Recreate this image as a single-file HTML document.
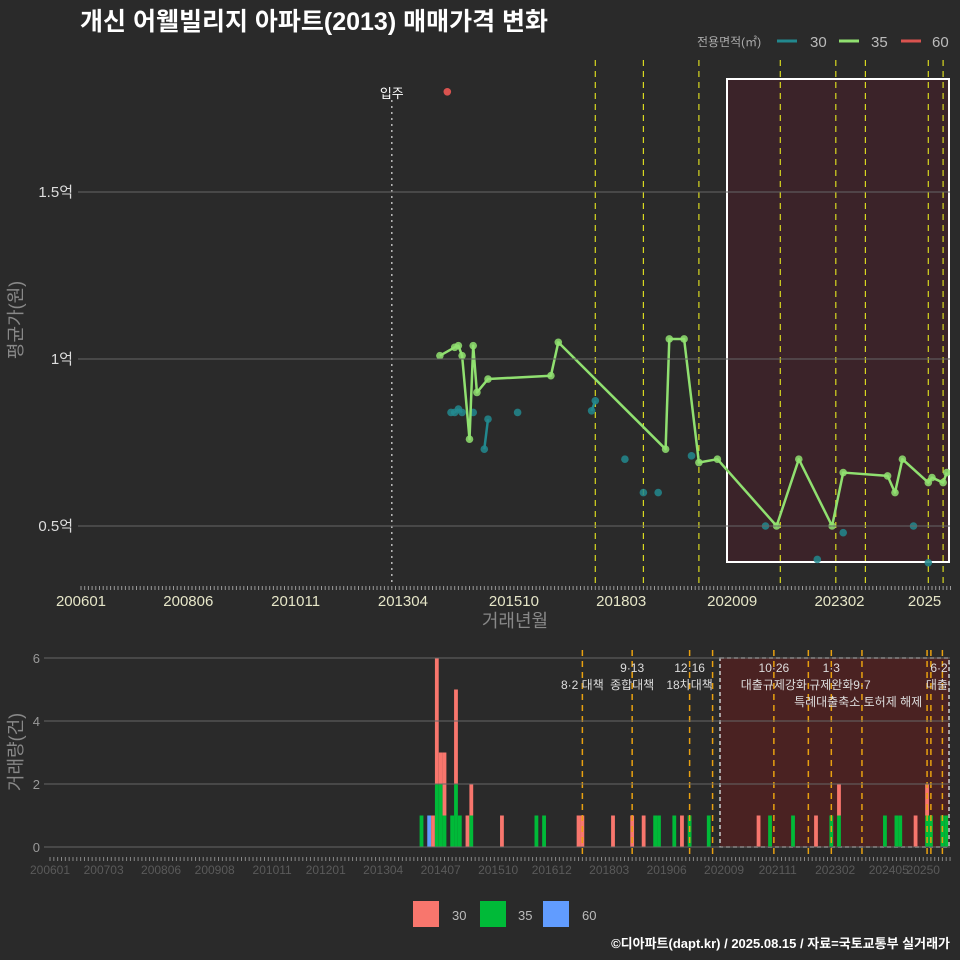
<!DOCTYPE html>
<html><head><meta charset="utf-8">
<style>
body{margin:0;background:#2a2a2a;}
svg{display:block;font-family:"Liberation Sans","Noto Sans CJK KR",sans-serif;}
</style></head>
<body>
<svg id="chart" width="960" height="960" viewBox="0 0 960 960" xmlns="http://www.w3.org/2000/svg">
<rect width="960" height="960" fill="#2a2a2a"/>
<defs>
<clipPath id="topclip"><rect x="50" y="55" width="900" height="530"/></clipPath>
<clipPath id="botclip"><rect x="44" y="645" width="906" height="215"/></clipPath>
</defs>
<text x="80" y="30" fill="#fff" font-size="25" font-weight="bold">개신 어웰빌리지 아파트(2013) 매매가격 변화</text>
<g>
<text x="697" y="46" fill="#aaa" font-size="12">전용면적(㎡)</text>
<line x1="777" y1="41" x2="797" y2="41" stroke="#22888e" stroke-width="3"/>
<text x="810" y="47" fill="#bbb" font-size="15">30</text>
<line x1="839" y1="41" x2="859" y2="41" stroke="#90e070" stroke-width="3"/>
<text x="871" y="47" fill="#bbb" font-size="15">35</text>
<line x1="901" y1="41" x2="921" y2="41" stroke="#d9534f" stroke-width="3"/>
<text x="932" y="47" fill="#bbb" font-size="15">60</text>
</g>
<g id="gtop" clip-path="url(#topclip)"></g>
<g id="topaxis"></g>
<g id="gbot" clip-path="url(#botclip)"></g>
<g id="botaxis"></g>
<text transform="translate(22,320) rotate(-90)" text-anchor="middle" fill="#888" font-size="18">평균가(원)</text>
<text x="515" y="627" text-anchor="middle" fill="#888" font-size="18">거래년월</text>
<text transform="translate(22,752) rotate(-90)" text-anchor="middle" fill="#888" font-size="18">거래량(건)</text>
<g>
<rect x="413" y="901" width="26" height="26" fill="#F8766D"/>
<text x="452" y="920" fill="#bbb" font-size="13">30</text>
<rect x="480" y="901" width="26" height="26" fill="#00BA38"/>
<text x="518" y="920" fill="#bbb" font-size="13">35</text>
<rect x="543" y="901" width="26" height="26" fill="#619CFF"/>
<text x="582" y="920" fill="#bbb" font-size="13">60</text>
</g>
<text x="950" y="948" text-anchor="end" fill="#fff" font-size="13" font-weight="bold">©디아파트(dapt.kr) / 2025.08.15 / 자료=국토교통부 실거래가</text>
</svg>
<script>
// months are indices from 2006-01 (0)
const priceTicks = [0.5, 1.0, 1.5];
const priceTickLabels = ["0.5억", "1억", "1.5억"];
const topXTickMonths = [0, 29, 58, 87, 117, 146, 176, 205, 228];
const topXTickLabels = ["200601","200806","201011","201304","201510","201803","202009","202302","2025"];
const s35Months = [97,101,102,103,105,106,107,110,127,129,158,159,163,167,172,188,194,203,206,218,220,222,229,230,233,234];
const s35Values = [1.01,1.035,1.04,1.01,0.76,1.04,0.90,0.94,0.95,1.05,0.73,1.06,1.06,0.69,0.70,0.50,0.70,0.50,0.66,0.65,0.60,0.70,0.63,0.645,0.63,0.66];
const s30Months = [100,101,102,103,106,109,110,118,138,139,147,152,156,165,185,199,206,225,229];
const s30Values = [0.84,0.84,0.85,0.84,0.84,0.73,0.82,0.84,0.845,0.875,0.70,0.60,0.60,0.71,0.50,0.40,0.48,0.50,0.39];
const s60Months = [99];
const s60Values = [1.80];
const topEventMonths = [139,152,167,189,204,212,229,233];
const moveInMonth = 84;
const volTicks = [0,2,4,6];
const botXTickMonths = [0,14,29,43,58,72,87,102,117,131,146,161,176,190,205,219,228];
const botXTickLabels = ["200601","200703","200806","200908","201011","201201","201304","201407","201510","201612","201803","201906","202009","202111","202302","202405","20250"];
const volMonths = [97,99,100,101,102,103,105,106,107,109,110,118,127,129,138,139,147,152,155,158,159,163,165,167,172,185,188,194,200,204,206,218,221,222,226,229,230,233,234];
const vol30 = [0,0,1,4,1,2,0,3,0,1,1,1,0,0,1,1,1,1,1,0,0,0,1,0,0,1,0,0,1,0,1,0,0,0,1,1,0,0,0];
const vol35 = [1,0,0,2,2,1,1,2,1,0,1,0,1,1,0,0,0,0,0,1,1,1,0,1,1,0,1,1,0,1,1,1,1,1,0,1,1,1,1];
const vol60 = [0,1,0,0,0,0,0,0,0,0,0,0,0,0,0,0,0,0,0,0,0,0,0,0,0,0,0,0,0,0,0,0,0,0,0,0,0,0,0];
const botEventMonths = [139,152,167,173,189,198,204,212,229,230,233];
const annotTexts = ["8·2 대책","9·13","종합대책","12·16","18차대책","10·26","대출규제강화","1·3","규제완화","9·7","특례대출축소 토허제 해제","6·27","대출규"];
const annotMonths = [139,152,152,167,167,189,189,204,204,212,211,233,233];
const annotRows = [1,0,1,0,1,0,1,0,1,1,2,0,1];

const NS = "http://www.w3.org/2000/svg";
const xTop = m => 81 + 3.70 * m;
const yTop = v => 526 - (v - 0.5) * 334;
const xBot = m => 50 + 3.83 * m;
const yBot = c => 847 - c * 31.5;
function mk(tag, attrs, parent) {
  const e = document.createElementNS(NS, tag);
  for (const k in attrs) e.setAttribute(k, attrs[k]);
  parent.appendChild(e);
  return e;
}
const gTop = document.getElementById('gtop');
const gTopAxis = document.getElementById('topaxis');
const gBot = document.getElementById('gbot');
const gBotAxis = document.getElementById('botaxis');

priceTicks.forEach((v, i) => {
  const g = mk('line', {x1: 78, x2: 950, y1: yTop(v), y2: yTop(v), stroke: '#666', 'stroke-width': 1}, gTopAxis);
  
  
  const t = mk('text', {x: 73, y: yTop(v) + 5, 'text-anchor': 'end', fill: '#ddd', 'font-size': 15}, gTopAxis);
  t.textContent = priceTickLabels[i];
  
  
});
const box = mk('rect', {x: 727, y: 79, width: 222, height: 483, fill: '#3b2329', stroke: '#fff', 'stroke-width': 2}, gTop);


topEventMonths.forEach(m => {
  const l = mk('line', {x1: xTop(m), x2: xTop(m), y1: 60, y2: 585, stroke: '#d8d820', 'stroke-width': 1.2, 'stroke-dasharray': '6,5'}, gTop);
  
  
});
const mi = mk('line', {x1: xTop(moveInMonth), x2: xTop(moveInMonth), y1: 100, y2: 585, stroke: '#bbb', 'stroke-width': 1.5, 'stroke-dasharray': '2,4'}, gTop);


const mit = mk('text', {x: xTop(moveInMonth), y: 98, 'text-anchor': 'middle', fill: '#fff', 'font-size': 13}, gTop);
mit.textContent = '입주';


for (let i = 1; i < s30Months.length; i++) {
  if (s30Months[i] - s30Months[i-1] <= 1) {
    const l = mk('line', {x1: xTop(s30Months[i-1]), y1: yTop(s30Values[i-1]), x2: xTop(s30Months[i]), y2: yTop(s30Values[i]), stroke: '#22888e', 'stroke-width': 2.5}, gTop);
    
    
  }
}
s30Months.forEach((m, i) => {
  const c = mk('circle', {cx: xTop(m), cy: yTop(s30Values[i]), r: 3.8, fill: '#22888e', opacity: 0.85}, gTop);
  
  
});
const pl = mk('polyline', {points: s35Months.map((m, i) => xTop(m) + ',' + yTop(s35Values[i])).join(' '), fill: 'none', stroke: '#90e070', 'stroke-width': 2.5, 'stroke-linejoin': 'round'}, gTop);


s35Months.forEach((m, i) => {
  const c = mk('circle', {cx: xTop(m), cy: yTop(s35Values[i]), r: 3.8, fill: '#90e070', opacity: 0.85}, gTop);
  
  
});
s60Months.forEach((m, i) => {
  const c = mk('circle', {cx: xTop(m), cy: yTop(s60Values[i]), r: 3.8, fill: '#d9534f'}, gTop);
  
  
});
for (let m = 0; m <= 235; m++) {
  const t = mk('line', {x1: xTop(m), x2: xTop(m), y1: 586, y2: 590, stroke: '#999', 'stroke-width': 1}, gTopAxis);
  
  
}
topXTickMonths.forEach((m, i) => {
  const t = mk('text', {x: xTop(m), y: 606, 'text-anchor': 'middle', fill: '#e6e6c8', 'font-size': 15}, gTopAxis);
  t.textContent = topXTickLabels[i];
  
  
});

volTicks.forEach(v => {
  const g = mk('line', {x1: 44, x2: 950, y1: yBot(v), y2: yBot(v), stroke: '#666', 'stroke-width': 1}, gBotAxis);
  
  
  const t = mk('text', {x: 40, y: yBot(v) + 5, 'text-anchor': 'end', fill: '#999', 'font-size': 13}, gBotAxis);
  t.textContent = v;
  
  
});
const bbox = mk('rect', {x: 720, y: 658, width: 229, height: 189, fill: '#4a2222', stroke: '#ccc', 'stroke-width': 1.5, 'stroke-dasharray': '4,3'}, gBot);


volMonths.forEach((m, i) => {
  const x = xBot(m) - 1.9;
  let base = 0;
  [[vol35[i], '#00BA38', 'bar-35'], [vol60[i], '#619CFF', 'bar-60'], [vol30[i], '#F8766D', 'bar-30']].forEach(s => {
    if (s[0] > 0) {
      const r = mk('rect', {x: x, y: yBot(base + s[0]), width: 3.8, height: yBot(base) - yBot(base + s[0]), fill: s[1]}, gBot);
      
      
      base += s[0];
    }
  });
});
botEventMonths.forEach(m => {
  const l = mk('line', {x1: xBot(m), x2: xBot(m), y1: 650, y2: 858, stroke: '#e8a010', 'stroke-width': 1.5, 'stroke-dasharray': '6,5'}, gBot);
  
  
});
annotTexts.forEach((s, i) => {
  const t = mk('text', {x: xBot(annotMonths[i]), y: 672 + annotRows[i] * 17, 'text-anchor': 'middle', fill: '#ddd', 'font-size': 12}, gBot);
  t.textContent = s;
  
  
});
for (let m = 0; m <= 235; m++) {
  const t = mk('line', {x1: xBot(m), x2: xBot(m), y1: 857, y2: 861, stroke: '#888', 'stroke-width': 1}, gBotAxis);
  
  
}
botXTickMonths.forEach((m, i) => {
  const t = mk('text', {x: xBot(m), y: 874, 'text-anchor': 'middle', fill: '#5a5a5a', 'font-size': 12}, gBotAxis);
  t.textContent = botXTickLabels[i];
  
  
});
</script>
</body></html>
